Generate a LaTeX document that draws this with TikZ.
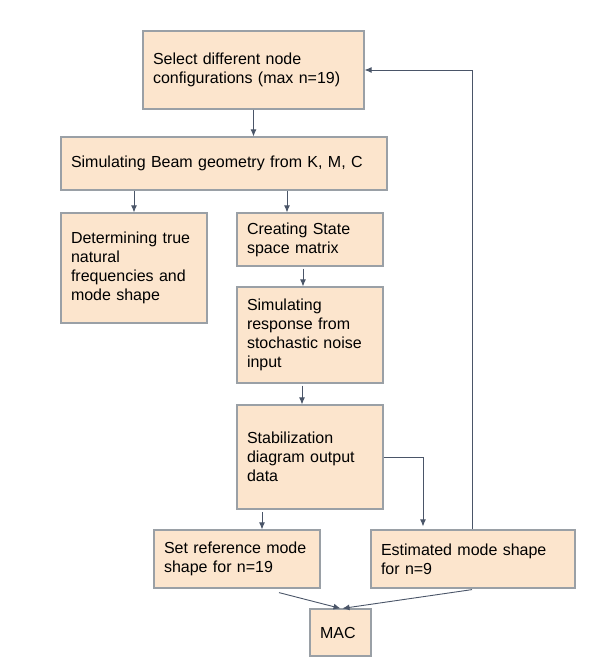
\documentclass[tikz,border=0pt]{standalone}
\usepackage{fontspec}
\setmainfont{Liberation Sans}
\usetikzlibrary{arrows.meta, positioning}

\definecolor{boxfill}{HTML}{FCE5CD}
\definecolor{boxline}{HTML}{9AA0A6}
\definecolor{arrline}{HTML}{4A5568}

\begin{document}
\begin{tikzpicture}[
    x=1pt, y=-1pt,
    stepbox/.style={draw=boxline, fill=boxfill, line width=1.2pt, align=left, inner xsep=10pt, inner ysep=0pt,
        font=\fontsize{16}{19}\selectfont},
    arr/.style={-{Latex[length=7pt, width=6pt]}, draw=arrline, line width=0.9pt}
]
    \useasboundingbox (0,0) rectangle (604,664);

    % Boxes
    \node[stepbox, text width=201pt, minimum height=78pt] (sel) at (253.5,70) {Select different node\\configurations (max n=19)};
    \node[stepbox, text width=306pt, minimum height=53pt] (beam) at (224,163.5) {Simulating Beam geometry from K, M, C};
    \node[stepbox, text width=126pt, minimum height=110pt] (truth) at (134,268) {Determining true\\natural\\frequencies and\\mode shape};
    \node[stepbox, text width=126pt, minimum height=53pt] (ss) at (310,239.5) {Creating State\\space matrix};
    \node[stepbox, text width=126pt, minimum height=96pt] (resp) at (310,335) {Simulating\\response from\\stochastic noise\\input};
    \node[stepbox, text width=126pt, minimum height=104pt] (stab) at (310,457) {Stabilization\\diagram output\\data};
    \node[stepbox, text width=146pt, minimum height=58pt] (ref) at (237,559) {Set reference mode\\shape for n=19};
    \node[stepbox, text width=184pt, minimum height=58pt] (est) at (473,559) {Estimated mode shape\\for n=9};
    \node[stepbox, text width=41pt, minimum height=47pt] (mac) at (340.5,632.5) {MAC};

    % Flow
    \draw[arr] (sel.south) -- (sel.south |- beam.north);
    \draw[arr] ([yshift=21pt]truth.north) -- (truth.north);
    \draw[arr] ([xshift=-23pt,yshift=21pt]ss.north) -- ([xshift=-23pt]ss.north);
    \draw[arr] ([xshift=-7pt,yshift=-2pt]ss.south) -- ([xshift=-7pt]resp.north);
    \draw[arr] ([xshift=-8pt,yshift=-2pt]resp.south) -- ([xshift=-8pt]stab.north);
    \draw[arr] ([xshift=25pt,yshift=17pt]ref.north) -- ([xshift=25pt]ref.north);
    \draw[arr] (stab.east) -| ([xshift=-50pt,yshift=3pt]est.north);

    % Loop back
    \draw[arr] ([xshift=-1pt]est.north) |- (sel.east);

    % Into MAC
    \draw[arr] ([xshift=42pt,yshift=-4pt]ref.south) -- (mac.north);
    \draw[arr] ([xshift=-1pt,yshift=-1pt]est.south) -- ([xshift=2pt]mac.north);
\end{tikzpicture}
\end{document}
